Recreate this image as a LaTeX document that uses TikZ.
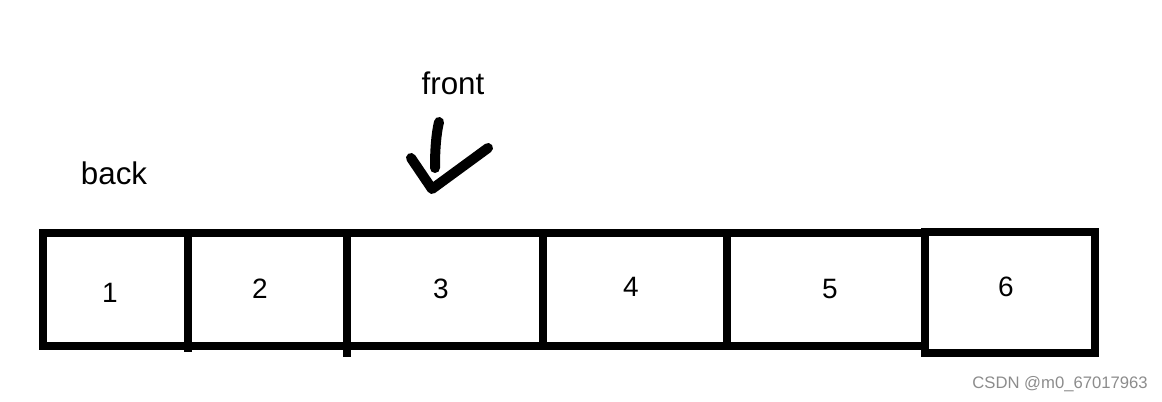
\documentclass[tikz,border=0pt]{standalone}
\usepackage{fontspec}
\setmainfont{Liberation Sans}
\begin{document}
\begin{tikzpicture}[x=0.75pt,y=-0.75pt,
  cellline/.style={line width=6pt,line cap=rect},
  num/.style={font=\fontsize{21}{24}\selectfont,inner sep=0pt},
  lbl/.style={font=\fontsize{23.5}{26}\selectfont,inner sep=0pt},
  pen/.style={line width=7.5pt,line cap=round,line join=round}]
\useasboundingbox (0,0) rectangle (1162,402);
% main strip
\draw[cellline] (925,233.5) -- (43,233.5) -- (43,345.5) -- (925,345.5);
\draw[cellline,line cap=butt] (188,233.5) -- (188,352);
\draw[cellline,line cap=butt] (347,233.5) -- (347,357);
\draw[cellline,line cap=butt] (543,233.5) -- (543,350);
\draw[cellline,line cap=butt] (727,233.5) -- (727,345.5);
\draw[cellline] (925,232) rectangle (1095,353);
% numbers
\node[num] (n1) at (110,293) {1};
\node[num] (n2) at (260,289) {2};
\node[num] (n3) at (441,289) {3};
\node[num] (n4) at (631,287) {4};
\node[num] (n5) at (830,289) {5};
\node[num] (n6) at (1006,287) {6};
% labels
\node[lbl] (back) at (114,173) {back};
\node[lbl] (front) at (453,83) {front};
% hand-drawn arrow
\draw[pen] (439,122) .. controls (436,135) and (435,150) .. (435,168);
\draw[pen] (411,158) -- (432,189) -- (488,148);
% watermark
\node[font=\fontsize{12.5}{14}\selectfont,text=black!45,anchor=east,inner sep=0pt] (wm) at (1148,384) {CSDN @m0\_67017963};
\end{tikzpicture}
\end{document}
